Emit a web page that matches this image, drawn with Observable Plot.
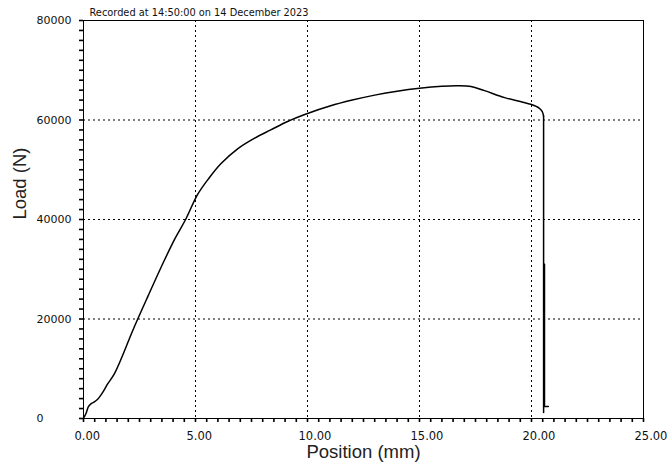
<!DOCTYPE html>
<html>
<head>
<meta charset="utf-8">
<script src="https://cdn.jsdelivr.net/npm/d3@7"></script>
<script src="https://cdn.jsdelivr.net/npm/@observablehq/plot@0.6"></script>
<style>
  html, body { margin: 0; padding: 0; background: #fff; }
  #chart { width: 667px; height: 466px; }
</style>
</head>
<body>
<div id="chart"></div>
<script>
const titleText = "Recorded at 14:50:00 on 14 December 2023";
const xLabel = "Position (mm)";
const yLabel = "Load (N)";

const positionMm = [0, 0.03, 0.10, 0.15, 0.22, 0.33, 0.47, 0.63, 0.85, 1.07, 1.37, 1.74, 2.19, 2.9, 3.6, 4.1, 4.57,
  5.09, 5.6, 6.13, 6.88, 7.62, 8.36, 9.11, 10.0, 11.0, 12.0, 13.0, 14.0, 15.0, 16.0, 16.7, 17.3, 17.9, 18.8,
  19.5, 20.0, 20.34, 20.48, 20.54, 20.54, 20.58, 20.58, 20.75];
const loadN = [0, 300, 900, 1500, 2400, 2950, 3300, 3850, 5200, 6900, 8900, 12600, 17600, 24800, 31700, 36300, 40100,
  45000, 48300, 51200, 54200, 56300, 58000, 59700, 61300, 62800, 64000, 65000, 65800, 66400, 66800, 66900, 66750, 65900, 64500,
  63700, 63100, 62400, 61700, 60800, 1200, 31000, 2400, 2400];
const fractureIndex = 39; // last point before the sudden drop

const xTicks = [0, 5, 10, 15, 20, 25];
const xTickLabels = ["0.00", "5.00", "10.00", "15.00", "20.00", "25.00"];
const yTicks = [0, 20000, 40000, 60000, 80000];
const yTickLabels = ["0", "20000", "40000", "60000", "80000"];
const xGrid = [5, 10, 15, 20];
const yGrid = [20000, 40000, 60000];
const xMinorStep = 0.5;
const yMinorStep = 2000;

const curve = positionMm.map((x, i) => ({x, y: loadN[i]}));
const smoothPart = curve.slice(0, fractureIndex + 1);
const dropPart = curve.slice(fractureIndex);
const xMinor = d3.range(0, 25 + 1e-9, xMinorStep);
const yMinor = d3.range(0, 80000 + 1e-9, yMinorStep);

const font = "DejaVu Sans";
const chart = Plot.plot({
  width: 667,
  height: 466,
  marginLeft: 83,
  marginRight: 24,
  marginTop: 20,
  marginBottom: 48,
  x: {domain: [0, 25], axis: null},
  y: {domain: [0, 80000], axis: null},
  style: {fontFamily: font, background: "#fff", color: "#111"},
  marks: [
    Plot.gridX(xGrid, {stroke: "#000", strokeOpacity: 1, strokeWidth: 1, strokeDasharray: "2,3"}),
    Plot.gridY(yGrid, {stroke: "#000", strokeOpacity: 1, strokeWidth: 1, strokeDasharray: "2,3"}),
    // minor ticks pointing outward from the frame
    Plot.axisX(xMinor, {tickSize: 4, text: null, label: null, stroke: "#000", strokeWidth: 1.6}),
    Plot.axisY(yMinor, {tickSize: 4, text: null, label: null, stroke: "#000", strokeWidth: 1.6}),
    Plot.line(smoothPart, {x: "x", y: "y", stroke: "#000", strokeWidth: 1.5, curve: "catmull-rom"}),
    Plot.line(dropPart, {x: "x", y: "y", stroke: "#000", strokeWidth: 1.5}),
    Plot.frame({stroke: "#000", strokeWidth: 1}),
    Plot.text(xTicks, {x: d => d, text: (d, i) => xTickLabels[i], frameAnchor: "bottom", dy: 18, dx: -9,
      textAnchor: "start", lineAnchor: "middle", fontSize: 11.5, fill: "#111"}),
    Plot.text(yTicks, {y: d => d, text: (d, i) => yTickLabels[i], frameAnchor: "left", dx: -47,
      textAnchor: "start", lineAnchor: "middle", fontSize: 11, fill: "#111"}),
    Plot.text([titleText], {text: d => d, frameAnchor: "top-left", dx: 6, dy: -8, textAnchor: "start",
      lineAnchor: "middle", fontSize: 9.8, fill: "#111"}),
    Plot.text([xLabel], {text: d => d, frameAnchor: "bottom", dy: 34, lineAnchor: "middle",
      fontSize: 18.5, fontFamily: "Liberation Sans", fill: "#222"}),
    Plot.text([yLabel], {text: d => d, frameAnchor: "left", dx: -63, rotate: -90, lineAnchor: "middle",
      fontSize: 18.5, fontFamily: "Liberation Sans", fill: "#222"})
  ]
});
document.getElementById("chart").appendChild(chart);
</script>
</body>
</html>
